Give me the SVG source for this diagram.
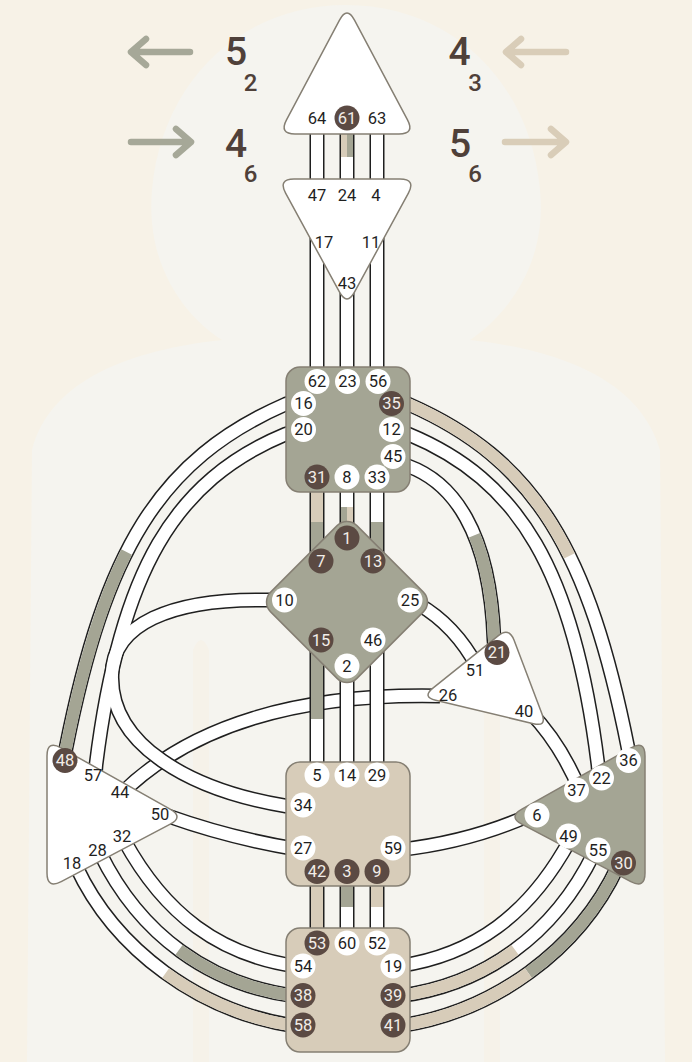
<svg xmlns="http://www.w3.org/2000/svg" width="692" height="1062" viewBox="0 0 692 1062">
<defs>
<style>
.bk{fill:none;stroke:#1f1f1f;stroke-width:15}
.wh{fill:none;stroke:#fff;stroke-width:12}
.gr{fill:none;stroke:#a4a594;stroke-width:12}
.tn{fill:none;stroke:#d7ccb9;stroke-width:12}
.gr6{fill:none;stroke:#a4a594;stroke-width:6}
.tn6{fill:none;stroke:#d7ccb9;stroke-width:6}
.ctr{stroke:#857f73;stroke-width:1.5}
.open{fill:#fff}
.dg{fill:#a4a594}
.dt{fill:#d7ccb9}
text{font-family:Roboto,"Liberation Sans",sans-serif}
.g{font-size:16.5px;fill:#1f1f1f;text-anchor:middle;dominant-baseline:central}
.gd{fill:#f2ede8}
.cw{fill:#fff}
.cd{fill:#5b4a43}
.big{font-size:39px;fill:#4f4039;text-anchor:middle;font-weight:500}
.sub{font-size:24px;fill:#4f4039;text-anchor:middle;font-weight:500}
.arr{fill:none;stroke-width:6.5;stroke-linecap:round;stroke-linejoin:round}
</style>
<path id="p16" pathLength="100" d="M 292 402 L 286 404 C 158 460 105 552 66 748 L 64 762"/>
<path id="p20" pathLength="100" d="M 292 432 L 286 434 C 175 480 120 570 96 765 L 95 778"/>
<path id="p10" pathLength="100" d="M 276 600 L 268 600 C 170 598 112 625 112 675 C 110 745 190 790 286 806 L 296 808"/>
<path id="p44" pathLength="100" d="M 120 795 C 190 725 300 693 440 696"/>
<path id="p50" pathLength="100" d="M 168 816 Q 230 838 296 849"/>
<path id="p18" pathLength="100" d="M 76 866 C 115 950 200 1012 295 1026"/>
<path id="p28" pathLength="100" d="M 100 853 C 140 935 210 985 295 996"/>
<path id="p32" pathLength="100" d="M 124 840 C 165 915 220 955 295 966"/>
<path id="p35" pathLength="100" d="M 402 402 L 408 404 C 536 460 589 552 628 748 L 630 762"/>
<path id="p12" pathLength="100" d="M 402 432 L 408 434 C 519 480 574 570 598 765 L 599 778"/>
<path id="p45" pathLength="100" d="M 400 462 L 408 466 C 452 482 490 530 494 640 L 495 650"/>
<path id="p25" pathLength="100" d="M 418 604 Q 455 625 478 668"/>
<path id="p40" pathLength="100" d="M 530 712 Q 562 745 582 795"/>
<path id="p59" pathLength="100" d="M 398 850 Q 470 842 530 815"/>
<path id="p49" pathLength="100" d="M 570 840 C 529 915 474 955 399 966"/>
<path id="p55" pathLength="100" d="M 594 853 C 554 935 484 985 399 996"/>
<path id="p30" pathLength="100" d="M 618 866 C 579 950 494 1012 399 1026"/>
</defs>

<rect width="692" height="1062" fill="#f7f2e7"/>
<path d="M 346 5 C 450 5 530 80 540 190 C 548 270 500 320 470 340 C 560 350 640 380 660 450 L 665 1062 L 27 1062 L 32 450 C 50 380 130 350 222 340 C 190 320 145 270 152 190 C 162 80 242 5 346 5 Z" fill="#f5f4ef"/>
<path d="M 193 1062 L 193 650 Q 201 630 209 650 L 209 1062 Z M 484 1062 L 484 650 Q 492 630 500 650 L 500 1062 Z" fill="#f6f2e9"/>

<g id="legend">
<g stroke="#a6a898" class="arr">
<path d="M 190 52 L 132 52 M 146 39 L 131 52 L 146 65"/>
<path d="M 131 142 L 190 142 M 176 129 L 191 142 L 176 155"/>
</g>
<g stroke="#d9cdb8" class="arr">
<path d="M 566 52 L 507 52 M 521 39 L 506 52 L 521 65"/>
<path d="M 505 142 L 565 142 M 551 129 L 566 142 L 551 155"/>
</g>
<text class="big" x="236" y="65">5</text><text class="sub" x="250.5" y="91">2</text>
<text class="big" x="236" y="157">4</text><text class="sub" x="250.5" y="182">6</text>
<text class="big" x="459.5" y="65">4</text><text class="sub" x="475" y="91">3</text>
<text class="big" x="460" y="157">5</text><text class="sub" x="475" y="182">6</text>
</g>

<g id="connectors">
<use href="#p18" class="bk"/><use href="#p18" class="wh"/><use href="#p18" class="tn" stroke-dasharray="0 50 50 0"/>
<use href="#p28" class="bk"/><use href="#p28" class="wh"/><use href="#p28" class="gr" stroke-dasharray="0 50 50 0"/>
<use href="#p32" class="bk"/><use href="#p32" class="wh"/>
<use href="#p49" class="bk"/><use href="#p49" class="wh"/>
<use href="#p55" class="bk"/><use href="#p55" class="wh"/><use href="#p55" class="tn" stroke-dasharray="0 50 50 0"/>
<use href="#p30" class="bk"/><use href="#p30" class="wh"/><use href="#p30" class="gr" stroke-dasharray="50 100"/><use href="#p30" class="tn" stroke-dasharray="0 50 50 0"/>
<use href="#p50" class="bk"/><use href="#p50" class="wh"/>
<use href="#p59" class="bk"/><use href="#p59" class="wh"/>
<use href="#p44" class="bk"/><use href="#p44" class="wh"/>
<use href="#p20" class="bk"/><use href="#p10" class="bk"/>
<use href="#p20" class="wh"/><use href="#p10" class="wh"/>
<use href="#p16" class="bk"/><use href="#p16" class="wh"/><use href="#p16" class="gr" stroke-dasharray="0 51 49 0"/>
<use href="#p35" class="bk"/><use href="#p35" class="wh"/><use href="#p35" class="tn" stroke-dasharray="52 100"/>
<use href="#p12" class="bk"/><use href="#p12" class="wh"/>
<use href="#p45" class="bk"/><use href="#p45" class="wh"/><use href="#p45" class="gr" stroke-dasharray="0 48 52 0"/>
<use href="#p25" class="bk"/><use href="#p25" class="wh"/>
<use href="#p40" class="bk"/><use href="#p40" class="wh"/>
<g>
<path class="bk" d="M317 125V190M347 125V190M377 125V190M317 200V375M347 200V375M377 200V375M317 485V565M347 485V540M377 485V565M317 640V770M347 650V770M377 640V770M317 880V935M347 880V935M377 880V935"/>
<path class="wh" d="M317 125V190M347 125V190M377 125V190M317 200V375M347 200V375M377 200V375M317 485V565M347 485V540M377 485V565M317 640V770M347 650V770M377 640V770M317 880V935M347 880V935M377 880V935"/>
<path class="tn6" d="M344 125V157"/><path class="gr6" d="M350 125V157"/>
<path class="tn" d="M317 485V522"/><path class="gr" d="M317 522V565"/>
<path class="gr6" d="M344 507V530"/><path class="tn6" d="M350 507V530"/>
<path class="gr" d="M377 522V565"/>
<path class="gr" d="M317 640V719"/>
<path class="tn" d="M317 880V935"/>
<path class="gr" d="M347 880V907"/>
<path class="tn" d="M377 880V907"/>
</g>
</g>

<g id="head">
<path class="open ctr" d="M 354.5 20.1 L 407.5 119.9 Q 415 134 399 134 L 295 134 Q 279 134 286.5 119.9 L 339.5 20.1 Q 347 6 354.5 20.1 Z"/>
<text class="g" x="317" y="118">64</text>
<circle class="cd" cx="347" cy="118" r="12.5"/><text class="g gd" x="347" y="118">61</text>
<text class="g" x="377" y="118">63</text>
</g>

<g id="ajna">
<path class="open ctr" d="M 294 179 L 400 179 Q 416 179 408.4 193.1 L 354.6 291.9 Q 347 306 339.4 291.9 L 285.6 193.1 Q 278 179 294 179 Z"/>
<text class="g" x="317" y="195">47</text>
<text class="g" x="347" y="195">24</text>
<text class="g" x="376" y="195">4</text>
<text class="g" x="324" y="242">17</text>
<text class="g" x="371" y="242">11</text>
<text class="g" x="347" y="283">43</text>
</g>

<g id="throat">
<rect class="dg ctr" x="286" y="367" width="124" height="125" rx="14"/>
<circle class="cw" cx="317" cy="381.5" r="12.5"/><text class="g" x="317" y="381.5">62</text>
<circle class="cw" cx="347.5" cy="381.5" r="12.5"/><text class="g" x="347.5" y="381.5">23</text>
<circle class="cw" cx="378" cy="381.5" r="12.5"/><text class="g" x="378" y="381.5">56</text>
<circle class="cw" cx="303.5" cy="403.5" r="12.5"/><text class="g" x="303.5" y="403.5">16</text>
<circle class="cd" cx="391.5" cy="403.5" r="12.5"/><text class="g gd" x="391.5" y="403.5">35</text>
<circle class="cw" cx="303.5" cy="429.5" r="12.5"/><text class="g" x="303.5" y="429.5">20</text>
<circle class="cw" cx="391.5" cy="429.5" r="12.5"/><text class="g" x="391.5" y="429.5">12</text>
<circle class="cw" cx="393" cy="456.5" r="12.5"/><text class="g" x="393" y="456.5">45</text>
<circle class="cd" cx="317" cy="477" r="12.5"/><text class="g gd" x="317" y="477">31</text>
<circle class="cw" cx="347" cy="477" r="12.5"/><text class="g" x="347" y="477">8</text>
<circle class="cw" cx="377" cy="477" r="12.5"/><text class="g" x="377" y="477">33</text>
</g>

<g id="g-center">
<rect class="dg ctr" x="-61" y="-61" width="122" height="122" rx="14" transform="translate(347,602) rotate(45)"/>
<circle class="cd" cx="347" cy="538" r="12.5"/><text class="g gd" x="347" y="538">1</text>
<circle class="cd" cx="321" cy="561" r="12.5"/><text class="g gd" x="321" y="561">7</text>
<circle class="cd" cx="373" cy="561" r="12.5"/><text class="g gd" x="373" y="561">13</text>
<circle class="cw" cx="284.5" cy="600" r="12.5"/><text class="g" x="284.5" y="600">10</text>
<circle class="cw" cx="410" cy="600" r="12.5"/><text class="g" x="410" y="600">25</text>
<circle class="cd" cx="321" cy="640" r="12.5"/><text class="g gd" x="321" y="640">15</text>
<circle class="cw" cx="373" cy="640" r="12.5"/><text class="g" x="373" y="640">46</text>
<circle class="cw" cx="347" cy="666" r="12.5"/><text class="g" x="347" y="666">2</text>
</g>

<g id="heart">
<path class="open ctr" d="M 514 640.1 L 542 713.9 Q 547 727 533.4 723.7 L 435.6 700.3 Q 422 697 432.9 688.2 L 498.1 635.8 Q 509 627 514 640.1 Z"/>
<circle class="cd" cx="497" cy="652.5" r="12.5"/><text class="g gd" x="497" y="652.5">21</text>
<text class="g" x="475" y="670">51</text>
<text class="g" x="448" y="695">26</text>
<text class="g" x="524" y="711">40</text>
</g>

<g id="spleen">
<path class="open ctr" d="M 60.9 747.8 L 170.1 809.2 Q 184 817 169.8 824.4 L 61.2 881.6 Q 47 889 47 873 L 47 756 Q 47 740 60.9 747.8 Z"/>
<circle class="cd" cx="65" cy="760.5" r="12.5"/><text class="g gd" x="65" y="760.5">48</text>
<text class="g" x="93" y="775">57</text>
<text class="g" x="120" y="792">44</text>
<text class="g" x="160" y="814">50</text>
<text class="g" x="122" y="836.5">32</text>
<text class="g" x="97.5" y="850">28</text>
<text class="g" x="72" y="863">18</text>
</g>

<g id="sacral">
<rect class="dt ctr" x="286" y="762" width="124" height="124" rx="14"/>
<circle class="cw" cx="317" cy="775" r="12.5"/><text class="g" x="317" y="775">5</text>
<circle class="cw" cx="347" cy="775" r="12.5"/><text class="g" x="347" y="775">14</text>
<circle class="cw" cx="377" cy="775" r="12.5"/><text class="g" x="377" y="775">29</text>
<circle class="cw" cx="303" cy="805" r="12.5"/><text class="g" x="303" y="805">34</text>
<circle class="cw" cx="303" cy="848" r="12.5"/><text class="g" x="303" y="848">27</text>
<circle class="cw" cx="393" cy="848" r="12.5"/><text class="g" x="393" y="848">59</text>
<circle class="cd" cx="317" cy="871.5" r="12.5"/><text class="g gd" x="317" y="871.5">42</text>
<circle class="cd" cx="347" cy="871.5" r="12.5"/><text class="g gd" x="347" y="871.5">3</text>
<circle class="cd" cx="377" cy="871.5" r="12.5"/><text class="g gd" x="377" y="871.5">9</text>
</g>

<g id="solar-plexus">
<path class="dg ctr" d="M 631.1 747.8 L 521.9 809.2 Q 508 817 522.2 824.4 L 630.8 881.6 Q 645 889 645 873 L 645 756 Q 645 740 631.1 747.8 Z"/>
<circle class="cw" cx="628.5" cy="760.5" r="12.5"/><text class="g" x="628.5" y="760.5">36</text>
<circle class="cw" cx="601.5" cy="778" r="12.5"/><text class="g" x="601.5" y="778">22</text>
<circle class="cw" cx="576.5" cy="790" r="12.5"/><text class="g" x="576.5" y="790">37</text>
<circle class="cw" cx="537" cy="815" r="12.5"/><text class="g" x="537" y="815">6</text>
<circle class="cw" cx="568.5" cy="836" r="12.5"/><text class="g" x="568.5" y="836">49</text>
<circle class="cw" cx="598" cy="850" r="12.5"/><text class="g" x="598" y="850">55</text>
<circle class="cd" cx="623.5" cy="863" r="12.5"/><text class="g gd" x="623.5" y="863">30</text>
</g>

<g id="root">
<rect class="dt ctr" x="286" y="928" width="124" height="124" rx="14"/>
<circle class="cd" cx="317" cy="943" r="12.5"/><text class="g gd" x="317" y="943">53</text>
<circle class="cw" cx="347" cy="943" r="12.5"/><text class="g" x="347" y="943">60</text>
<circle class="cw" cx="377" cy="943" r="12.5"/><text class="g" x="377" y="943">52</text>
<circle class="cw" cx="303" cy="966" r="12.5"/><text class="g" x="303" y="966">54</text>
<circle class="cw" cx="393" cy="966" r="12.5"/><text class="g" x="393" y="966">19</text>
<circle class="cd" cx="303" cy="995.5" r="12.5"/><text class="g gd" x="303" y="995.5">38</text>
<circle class="cd" cx="393" cy="995.5" r="12.5"/><text class="g gd" x="393" y="995.5">39</text>
<circle class="cd" cx="303" cy="1025" r="12.5"/><text class="g gd" x="303" y="1025">58</text>
<circle class="cd" cx="393" cy="1025" r="12.5"/><text class="g gd" x="393" y="1025">41</text>
</g>
</svg>
